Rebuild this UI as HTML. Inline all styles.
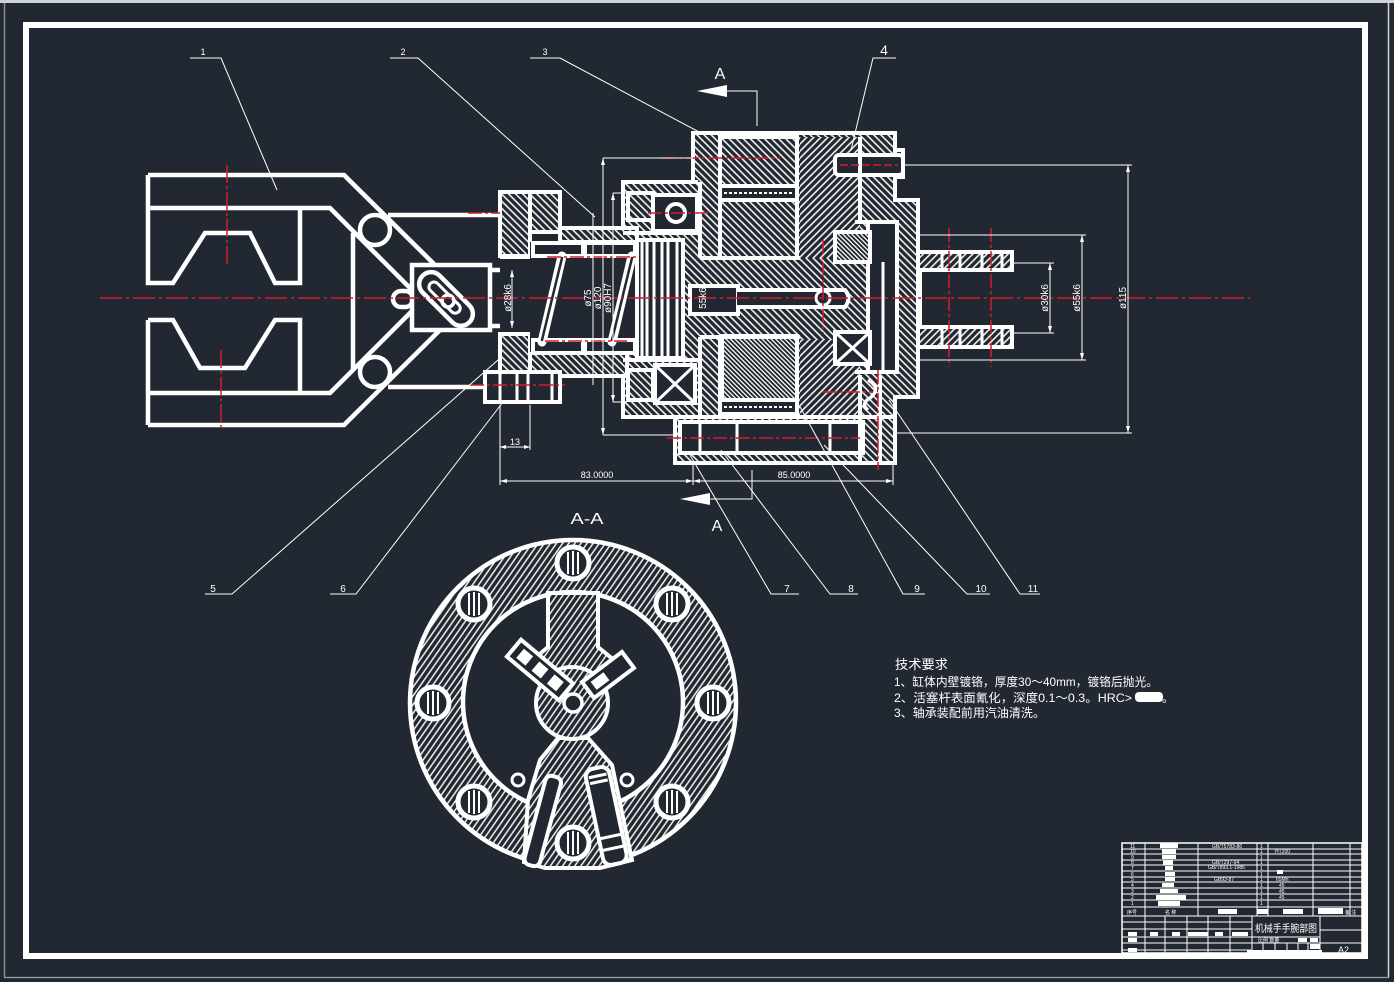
<!DOCTYPE html>
<html><head><meta charset="utf-8">
<style>
html,body{margin:0;padding:0;background:#222831;}
svg{display:block;}
text{font-family:"Liberation Sans","Noto Sans CJK SC",sans-serif;fill:#fff;}
</style></head>
<body>
<svg width="1394" height="982" viewBox="0 0 1394 982" xmlns="http://www.w3.org/2000/svg">
<defs>
 <pattern id="hA" width="5" height="5" patternUnits="userSpaceOnUse" patternTransform="rotate(45)"><rect width="5" height="5" fill="#222831"/><line x1="2.5" y1="0" x2="2.5" y2="5" stroke="#fff" stroke-width="1.5"/></pattern>
 <pattern id="hB" width="5" height="5" patternUnits="userSpaceOnUse" patternTransform="rotate(-45)"><rect width="5" height="5" fill="#222831"/><line x1="2.5" y1="0" x2="2.5" y2="5" stroke="#fff" stroke-width="1.5"/></pattern>
 <pattern id="hC" width="5" height="5" patternUnits="userSpaceOnUse" patternTransform="rotate(35)"><rect width="5" height="5" fill="#222831"/><line x1="2.5" y1="0" x2="2.5" y2="5" stroke="#fff" stroke-width="1.4"/></pattern>
 <pattern id="hD" width="3.2" height="3.2" patternUnits="userSpaceOnUse" patternTransform="rotate(-45)"><rect width="3.2" height="3.2" fill="#222831"/><line x1="1.6" y1="0" x2="1.6" y2="3.2" stroke="#fff" stroke-width="1.3"/></pattern>
</defs>
<rect width="1394" height="982" fill="#222831"/>
<rect x="0" y="0" width="1394" height="3" fill="#cfd2d4"/>
<line x1="4.5" y1="3" x2="4.5" y2="977" stroke="#8a8e92" stroke-width="1.5"/>
<line x1="1388.5" y1="3" x2="1388.5" y2="977" stroke="#d0d2d4" stroke-width="1.5"/>
<line x1="4" y1="977.5" x2="1389" y2="977.5" stroke="#9a9ea2" stroke-width="1.2"/>
<!-- frame -->
<rect x="26" y="25" width="1339" height="931" fill="none" stroke="#fff" stroke-width="6"/>

<!-- ============ GRIPPER ============ -->
<g fill="none" stroke="#fff" stroke-width="4.5">
 <path d="M148,175 H344 L436,266"/>
 <path d="M148,175 V283 H173 L205,233 H250 L275,283 H300 V208"/>
 <path d="M148,208 H330 L413,291"/>
 <path d="M388,215 H500"/>
 <path d="M353,233 V370"/>
 <path d="M148,425 H344 L440,330"/>
 <path d="M148,320 V425"/>
 <path d="M148,320 H173 L200,368 H245 L275,320 H300 V393"/>
 <path d="M148,393 H330 L413,310"/>
 <path d="M388,387 H486"/>
 <circle cx="375" cy="230" r="15" fill="#222831"/>
 <circle cx="375" cy="372" r="15" fill="#222831"/>
 <rect x="393" y="291" width="20" height="16" rx="8" fill="#222831"/>
 <rect x="412" y="265" width="78" height="65" fill="#222831"/>
 <path d="M490,270 H500 M490,326 H500"/>
 <g transform="translate(446,299) rotate(45)">
  <rect x="-33" y="-12" width="66" height="24" rx="12" fill="#222831"/>
  <rect x="-22" y="-5" width="40" height="10" rx="5" stroke-width="3"/>
 </g>
 <circle cx="448" cy="301" r="6" stroke-width="3.5"/>
</g>

<!-- ============ BODY HATCHES ============ -->
<g stroke="#fff" stroke-width="4">
 <path fill="url(#hB)" d="M693,133 H895 V200 H918 V397 H895 V463 H675 V417 H623 V182 H693 Z"/>
 <rect fill="url(#hA)" x="800" y="137" width="60" height="121" stroke="none"/>
 <rect fill="url(#hA)" x="800" y="340" width="60" height="77" stroke="none"/>
 <rect fill="url(#hA)" x="918" y="252" width="94" height="18"/>
 <rect fill="url(#hA)" x="918" y="327" width="94" height="20"/>
 <rect fill="url(#hB)" x="500" y="192" width="30" height="64"/>
 <rect fill="url(#hB)" x="530" y="192" width="30" height="40"/>
 <rect fill="url(#hB)" x="560" y="228" width="77" height="14"/>
 <rect fill="url(#hB)" x="500" y="334" width="30" height="38"/>
 <rect fill="url(#hB)" x="530" y="352" width="97" height="24"/>
 <rect fill="url(#hD)" x="722" y="336" width="75" height="64"/>
</g>
<!-- prong dividers -->
<g stroke="#fff" stroke-width="3">
 <path d="M942,252 V270 M960,252 V270 M982,252 V270 M1002,252 V270 M942,327 V347 M960,327 V347 M982,327 V347 M1002,327 V347"/>
 <path d="M920,270 V327" stroke-width="4"/>
</g>

<!-- dark cavities -->
<g fill="#222831" stroke="#fff" stroke-width="4">
 <rect x="500" y="257" width="30" height="77" stroke="none"/>
 <rect x="530" y="242" width="107" height="110" stroke="none"/>
 <path d="M500,257 H530 M500,334 H530" fill="none"/>
 <rect x="637" y="240" width="46" height="118"/>
 <rect x="653" y="195" width="44" height="36"/>
 <rect x="655" y="365" width="40" height="38"/>
 <rect x="628" y="193" width="25" height="27" fill="url(#hB)"/>
 <rect x="628" y="370" width="25" height="30" fill="url(#hB)"/>
 <rect x="690" y="286" width="48" height="28"/>
 <path d="M737,290 H845 Q852,298 845,307 H737"/>
 <rect x="868" y="222" width="29" height="150"/>
 <rect x="835" y="232" width="35" height="30" fill="url(#hD)"/>
 <rect x="835" y="332" width="35" height="32"/>
 <rect x="835" y="155" width="68" height="20" rx="4"/>
 <rect x="680" y="422" width="183" height="31"/>
 <rect x="720" y="186" width="77" height="14"/>
 <rect x="720" y="400" width="77" height="14"/>
 <rect x="720" y="137" width="77" height="49" fill="url(#hB)"/>
 <rect x="720" y="200" width="77" height="58" fill="url(#hB)"/>
 <rect x="485" y="372" width="75" height="30"/>
 <rect x="533" y="243" width="50" height="13"/>
 <rect x="585" y="243" width="50" height="13"/>
 <rect x="533" y="340" width="50" height="13"/>
 <rect x="585" y="340" width="50" height="13"/>
</g>
<g fill="none" stroke="#fff" stroke-width="3">
 <path d="M642,240 V358 M647,240 V358 M654,240 V358 M662,240 V358 M668,240 V358 M677,240 V358"/>
 <path d="M655,365 L695,403 M695,365 L655,403 M835,332 L870,364 M870,332 L835,364"/>
 <path d="M500,372 V402 M517,372 V402 M528,372 V402 M552,372 V402"/>
 <path d="M700,422 V453 M737,422 V453 M830,422 V453"/>
 <path d="M724,193 H793 M724,407 H793" stroke-dasharray="3,2" stroke-width="2"/>
 <path d="M868,380 Q882,388 870,398 Q860,404 868,410" stroke-width="3.5"/>
 <path d="M883,262 V370"/>
</g>
<circle cx="676" cy="213" r="9" fill="#222831" stroke="#fff" stroke-width="4"/>
<circle cx="823" cy="298" r="7" fill="#222831" stroke="#fff" stroke-width="3"/>
<!-- springs -->
<g stroke-linecap="round">
 <path d="M562,256 L542,342 M632,256 L612,342" stroke="#fff" stroke-width="9"/>
 <path d="M562,258 L542,340 M632,258 L612,340" stroke="#222831" stroke-width="2.5"/>
</g>
<!-- interior white lines -->
<g fill="none" stroke="#fff" stroke-width="4">
 <path d="M700,182 V258 M700,258 H800 M797,133 V258 M860,137 V222"/>
 <path d="M700,337 H800 M797,337 V417 M700,337 V417 M720,337 V415"/>
 <path d="M623,233 H700 M623,360 H700 M675,417 H895 M623,182 H698"/>
 <path d="M860,375 V463 M880,375 V463 M855,222 H897 M855,372 H897"/>
 <path d="M895,150 H903 V177 H895"/>
</g>

<!-- ============ RED CENTER LINES ============ -->
<g stroke="#d41a2a" stroke-width="1.5" fill="none">
 <path d="M100,298 H1250" stroke-dasharray="22,4,3,4"/>
 <path d="M227,165 V265 M221,350 V430" stroke-dasharray="18,3,3,3"/>
 <path d="M468,213 H500 M470,385 H565 M648,213 H710 M547,257 H637 M545,341 H627 M662,158 H780 M667,438 H860 M823,392 H873" stroke-dasharray="14,3,3,3"/>
 <path d="M840,165 H898" stroke-dasharray="8,3"/>
 <path d="M823,240 V333 M878,370 V470 M949,228 V367 M991,228 V367" stroke-dasharray="14,3,3,3"/>
</g>

<!-- ============ DIMENSIONS ============ -->
<g stroke="#fff" stroke-width="1" fill="none">
 <path d="M905,165 H1132 M895,433 H1132 M1128,165 V433"/>
 <path d="M918,235 H1086 M918,360 H1086 M1082,235 V360"/>
 <path d="M1012,263 H1054 M1012,333 H1054 M1050,263 V333"/>
 <path d="M603,158 H693 M603,435 H680 M603,158 V435"/>
 <path d="M613,193 H627 M613,402 H627 M613,193 V402"/>
 <path d="M593,213 V385 M512,270 V328"/>
 <path d="M500,405 V485 M530,405 V450 M500,447 H530"/>
 <path d="M500,481 H893 M693,463 V485 M893,463 V485"/>
 <!-- section arrows -->
 <path d="M727,91 H757 V126"/>
 <path d="M708,499 H752 V470"/>
 <!-- leaders -->
 <path d="M190,58 H221 L277,190"/>
 <path d="M390,58 H418 L595,217"/>
 <path d="M530,58 H560 L701,133"/>
 <path d="M896,58 H873 L851,150"/>
 <path d="M205,594 H232 L498,360"/>
 <path d="M330,594 H356 L503,402"/>
 <path d="M799,594 H771 L690,455"/>
 <path d="M858,594 H830 L721,450"/>
 <path d="M925,594 H903 L799,405"/>
 <path d="M990,594 H967 L824,445"/>
 <path d="M1040,594 H1020 L889,400"/>
</g>
<g fill="#fff">
 <path d="M697,91 L727,85 L727,97 Z"/>
 <path d="M680,499 L710,493 L710,505 Z"/>
 <path d="M1128,165 l-2,7 h4 Z M1128,433 l-2,-7 h4 Z M1082,235 l-2,7 h4 Z M1082,360 l-2,-7 h4 Z M1050,263 l-2,7 h4 Z M1050,333 l-2,-7 h4 Z"/>
 <path d="M603,158 l-2,7 h4 Z M603,435 l-2,-7 h4 Z M613,193 l-2,7 h4 Z M613,402 l-2,-7 h4 Z M512,270 l-2,7 h4 Z M512,328 l-2,-7 h4 Z"/>
 <path d="M500,481 l7,-2 v4 Z M693,481 l-7,-2 v4 Z M693,481 l7,-2 v4 Z M893,481 l-7,-2 v4 Z M500,447 l6,-2 v4 Z M530,447 l-6,-2 v4 Z"/>
</g>
<g font-size="10">
 <text x="1126" y="298" transform="rotate(-90 1126 298)" text-anchor="middle">ø115</text>
 <text x="1080" y="298" transform="rotate(-90 1080 298)" text-anchor="middle">ø55k6</text>
 <text x="1048" y="298" transform="rotate(-90 1048 298)" text-anchor="middle">ø30k6</text>
 <text x="511" y="298" transform="rotate(-90 511 298)" text-anchor="middle">ø28k6</text>
 <text x="591" y="298" transform="rotate(-90 591 298)" text-anchor="middle">ø75</text>
 <text x="601" y="298" transform="rotate(-90 601 298)" text-anchor="middle">ø120</text>
 <text x="611" y="298" transform="rotate(-90 611 298)" text-anchor="middle">ø90H7</text>
 <text x="706" y="298" transform="rotate(-90 706 298)" text-anchor="middle">55k6</text>
 <text x="515" y="445" text-anchor="middle" font-size="9">13</text>
 <text x="597" y="478" text-anchor="middle" font-size="9">83.0000</text>
 <text x="794" y="478" text-anchor="middle" font-size="9">85.0000</text>
 <text x="203" y="55" text-anchor="middle" font-size="9">1</text>
 <text x="403" y="55" text-anchor="middle" font-size="9">2</text>
 <text x="545" y="55" text-anchor="middle" font-size="9">3</text>
 <text x="884" y="55" text-anchor="middle" font-size="14">4</text>
 <text x="213" y="592" text-anchor="middle">5</text>
 <text x="343" y="592" text-anchor="middle">6</text>
 <text x="787" y="592" text-anchor="middle">7</text>
 <text x="851" y="592" text-anchor="middle">8</text>
 <text x="917" y="592" text-anchor="middle">9</text>
 <text x="981" y="592" text-anchor="middle">10</text>
 <text x="1033" y="592" text-anchor="middle">11</text>
 <text x="720" y="79" text-anchor="middle" font-size="16">A</text>
 <text x="717" y="531" text-anchor="middle" font-size="16">A</text>
 <text x="587" y="524" text-anchor="middle" font-size="16" textLength="33" lengthAdjust="spacingAndGlyphs">A-A</text>
</g>

<!-- ============ SECTION A-A ============ -->
<circle cx="573" cy="703" r="163" fill="url(#hC)" stroke="#fff" stroke-width="4.5"/>
<circle cx="573" cy="702" r="110" fill="#222831" stroke="#fff" stroke-width="4.5"/>
<g stroke="#fff" stroke-width="4">
 <path fill="url(#hC)" d="M548,593 H598 V647 L614,660 L592,692 L573,682 L554,694 L528,664 L548,647 Z"/>
 <path fill="url(#hC)" d="M558,738 L588,738 L612,765 L632,860 L600,868 L545,868 L524,862 L528,800 L540,760 Z"/>
 <circle cx="572" cy="703" r="36" fill="url(#hC)"/>
 <circle cx="573" cy="703" r="9" fill="#222831" stroke-width="3.5"/>
 <g transform="translate(540,670) rotate(40)">
  <rect x="-34" y="-11" width="68" height="22" fill="#222831"/>
  <rect x="-26" y="-6" width="12" height="12" fill="#fff" stroke="none"/>
  <rect x="-6" y="-6" width="12" height="12" fill="#fff" stroke="none"/>
  <rect x="14" y="-6" width="12" height="12" fill="#fff" stroke="none"/>
 </g>
 <g transform="translate(608,675) rotate(-37)">
  <rect x="-25" y="-10" width="50" height="20" fill="#222831"/>
  <rect x="-18" y="-5" width="16" height="10" fill="#fff" stroke="none"/>
 </g>
 <g transform="translate(543,820) rotate(15)"><rect x="-8" y="-45" width="16" height="92" rx="6" fill="#222831"/></g>
 <g transform="translate(606,815) rotate(-12)">
  <rect x="-12" y="-48" width="24" height="98" rx="8" fill="#222831"/>
  <path d="M-12,22 H12 M-12,34 H12 M-9,-40 H9 M-9,-34 H9" fill="none" stroke-width="3"/>
 </g>
 <circle cx="518" cy="780" r="6" fill="#222831" stroke-width="3"/>
 <circle cx="627" cy="780" r="6" fill="#222831" stroke-width="3"/>
</g>
<g stroke="#fff">
 <g transform="translate(573,563)"><circle r="16" fill="#222831" stroke-width="5"/><path d="M-5,-11 V11 M0,-12 V12 M5,-11 V11" stroke-width="2"/></g>
 <g transform="translate(672,604)"><circle r="16" fill="#222831" stroke-width="5"/><path d="M-5,-11 V11 M0,-12 V12 M5,-11 V11" stroke-width="2"/></g>
 <g transform="translate(713,703)"><circle r="16" fill="#222831" stroke-width="5"/><path d="M-5,-11 V11 M0,-12 V12 M5,-11 V11" stroke-width="2"/></g>
 <g transform="translate(672,802)"><circle r="16" fill="#222831" stroke-width="5"/><path d="M-5,-11 V11 M0,-12 V12 M5,-11 V11" stroke-width="2"/></g>
 <g transform="translate(573,843)"><circle r="16" fill="#222831" stroke-width="5"/><path d="M-5,-11 V11 M0,-12 V12 M5,-11 V11" stroke-width="2"/></g>
 <g transform="translate(474,802)"><circle r="16" fill="#222831" stroke-width="5"/><path d="M-5,-11 V11 M0,-12 V12 M5,-11 V11" stroke-width="2"/></g>
 <g transform="translate(433,703)"><circle r="16" fill="#222831" stroke-width="5"/><path d="M-5,-11 V11 M0,-12 V12 M5,-11 V11" stroke-width="2"/></g>
 <g transform="translate(474,604)"><circle r="16" fill="#222831" stroke-width="5"/><path d="M-5,-11 V11 M0,-12 V12 M5,-11 V11" stroke-width="2"/></g>
</g>

<!-- ============ TECH REQUIREMENTS ============ -->
<g font-size="12">
 <text x="895" y="669" font-size="13" textLength="53" lengthAdjust="spacingAndGlyphs">技术要求</text>
 <text x="894" y="686" textLength="264" lengthAdjust="spacingAndGlyphs">1、缸体内壁镀铬，厚度30～40mm，镀铬后抛光。</text>
 <text x="894" y="702" textLength="238" lengthAdjust="spacingAndGlyphs">2、活塞杆表面氰化，深度0.1～0.3。HRC&gt;</text>
 <text x="1162" y="702">。</text>
 <text x="894" y="717" textLength="151" lengthAdjust="spacingAndGlyphs">3、轴承装配前用汽油清洗。</text>
</g>
<rect x="1135" y="692" width="28" height="10" rx="4" fill="#fff"/>

<!-- ============ TITLE BLOCK ============ -->
<g stroke="#fff" stroke-width="1" fill="none">
 <rect x="1122" y="843" width="240" height="110" stroke-width="1.5"/>
 <path d="M1122,849 H1362 M1122,854 H1362 M1122,860 H1362 M1122,865 H1362 M1122,871 H1362 M1122,877 H1362 M1122,882 H1362 M1122,888 H1362 M1122,894 H1362 M1122,900 H1362 M1122,907 H1362 M1122,916 H1362" />
 <path d="M1145,843 V916 M1198,843 V916 M1257,843 V916 M1268,843 V916 M1313,843 V916 M1350,843 V916"/>
 <path d="M1122,922 H1252 M1122,929 H1252 M1122,937 H1252 M1122,943 H1252 M1122,950 H1252"/>
 <path d="M1145,916 V953 M1165,916 V953 M1187,916 V953 M1208,916 V953 M1230,916 V953 M1252,916 V953"/>
 <path d="M1252,937 H1320 M1252,943 H1320 M1320,916 V953 M1320,930 H1362 M1320,943 H1362"/>
 <path d="M1263,943 V953 M1275,943 V953 M1287,943 V953 M1298,943 V953 M1308,943 V953"/>
</g>
<g fill="#fff">
 <rect x="1160" y="843" width="18" height="5"/>
 <rect x="1162" y="849" width="14" height="5"/>
 <rect x="1162" y="855" width="14" height="4"/>
 <rect x="1163" y="860" width="10" height="5"/>
 <rect x="1165" y="866" width="8" height="4"/>
 <rect x="1165" y="872" width="10" height="4"/>
 <rect x="1165" y="877" width="10" height="4"/>
 <rect x="1162" y="883" width="12" height="4"/>
 <rect x="1160" y="889" width="18" height="4"/>
 <rect x="1156" y="895" width="30" height="5"/>
 <rect x="1158" y="901" width="22" height="5"/>
 <rect x="1218" y="909" width="19" height="5"/>
 <rect x="1257" y="909" width="11" height="5"/>
 <rect x="1283" y="909" width="20" height="5"/>
 <rect x="1318" y="908" width="25" height="6"/>
 <rect x="1128" y="932" width="9" height="4"/>
 <rect x="1150" y="932" width="8" height="4"/>
 <rect x="1172" y="932" width="8" height="4"/>
 <rect x="1188" y="932" width="20" height="4"/>
 <rect x="1215" y="932" width="8" height="4"/>
 <rect x="1232" y="932" width="16" height="4"/>
 <rect x="1128" y="938" width="9" height="4"/>
 <rect x="1128" y="948" width="9" height="4"/>
 <rect x="1298" y="938" width="9" height="4"/>
 <rect x="1310" y="938" width="8" height="4"/>
 <rect x="1310" y="944" width="10" height="5"/>
 <rect x="1247" y="950" width="75" height="5"/>
 <rect x="1277" y="870" width="6" height="4"/>
</g>
<g font-size="5">
 <text x="1130" y="848">11</text><text x="1130" y="853">10</text><text x="1131" y="859">9</text><text x="1131" y="864">8</text><text x="1131" y="870">7</text><text x="1131" y="876">6</text><text x="1131" y="881">5</text><text x="1131" y="887">4</text><text x="1131" y="893">3</text><text x="1131" y="899">2</text><text x="1131" y="905">1</text>
 <text x="1212" y="848">GB/T5783-86</text>
 <text x="1212" y="864">GB/T297-94</text>
 <text x="1208" y="869">GB/T893.1-1986</text>
 <text x="1214" y="881">GB93-87</text>
 <text x="1275" y="853">HT200</text>
 <text x="1276" y="881">65Mn</text>
 <text x="1279" y="887">45</text>
 <text x="1279" y="893">45</text>
 <text x="1279" y="899">45</text>
 <text x="1260" y="848">1</text><text x="1260" y="853">1</text><text x="1260" y="859">1</text><text x="1260" y="864">1</text><text x="1260" y="870">1</text><text x="1260" y="876">1</text><text x="1260" y="881">1</text><text x="1260" y="887">1</text><text x="1260" y="893">1</text><text x="1260" y="899">1</text><text x="1260" y="905">1</text>
 <text x="1127" y="914">序号</text>
 <text x="1165" y="914">名 称</text>
 <text x="1345" y="914">备 注</text>
 <text x="1258" y="942">比例 数量</text>
</g>
<text x="1255" y="932" font-size="10" textLength="62" lengthAdjust="spacingAndGlyphs">机械手手腕部图</text>
<text x="1338" y="953" font-size="9">A2</text>
</svg>
</body></html>
